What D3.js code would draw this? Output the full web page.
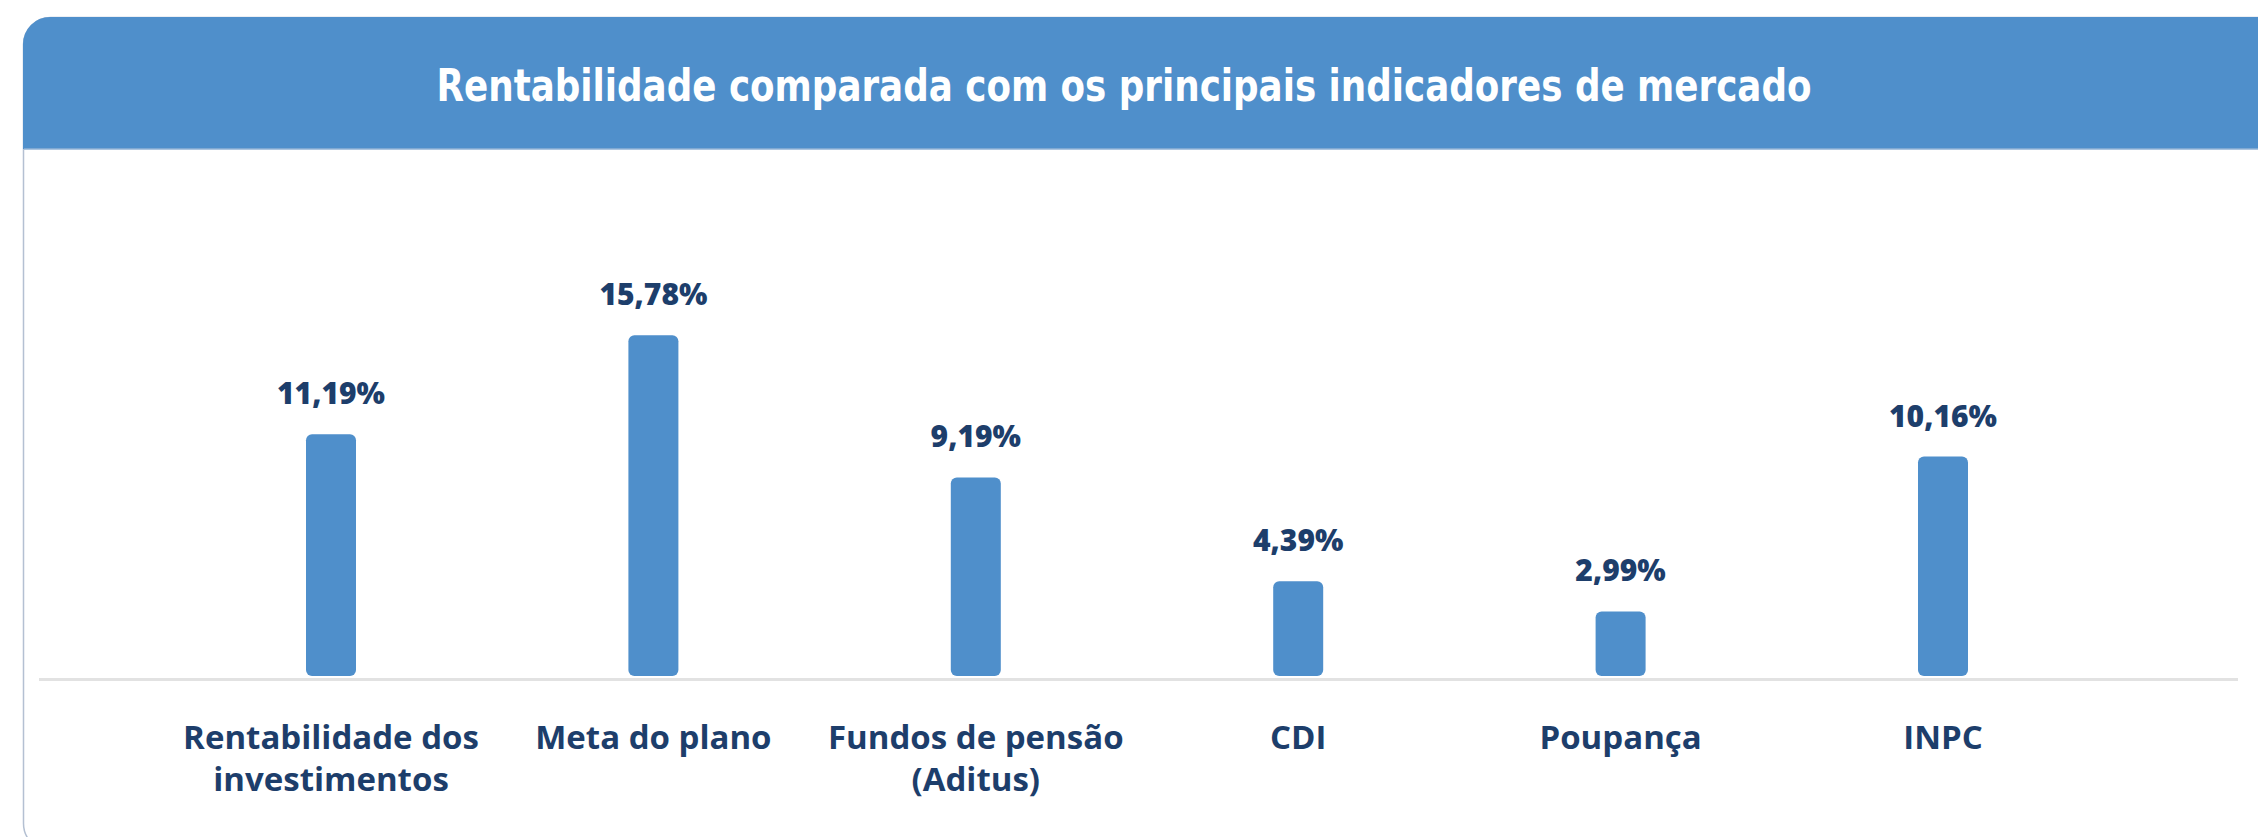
<!DOCTYPE html>
<html>
<head>
<meta charset="utf-8">
<script src="https://cdn.jsdelivr.net/npm/d3@7"></script>
<style>
  html, body { margin: 0; padding: 0; background: #ffffff; }
  svg { display: block; }
</style>
</head>
<body>
<svg id="svg" width="2258" height="837"></svg>
<script>
// data
var titulo = "Rentabilidade comparada com os principais indicadores de mercado";
var categorias = ["Rentabilidade dos|investimentos", "Meta do plano", "Fundos de pensão|(Aditus)", "CDI", "Poupança", "INPC"];
var valores = [11.19, 15.78, 9.19, 4.39, 2.99, 10.16];
var rotulos = ["11,19%", "15,78%", "9,19%", "4,39%", "2,99%", "10,16%"];

function draw(){
	var svg = d3.select("#svg");
	var azul = "#4f8fcb";
	var navy = "#1d3e6b";

	// panel with rounded left corners, open to the right and bottom
	var defs = svg.append("defs");
	defs.append("clipPath").attr("id", "painel")
		.append("rect")
		.attr("x", 23).attr("y", 17)
		.attr("width", 2400).attr("height", 833)
		.attr("rx", 27);

	svg.append("rect")
		.attr("x", 23.5).attr("y", 17.5)
		.attr("width", 2400).attr("height", 833)
		.attr("rx", 27)
		.attr("fill", "#ffffff")
		.attr("stroke", "#b4c0d2")
		.attr("stroke-width", 1.5);

	// header band
	svg.append("rect")
		.attr("clip-path", "url(#painel)")
		.attr("x", 0).attr("y", 17)
		.attr("width", 2258).attr("height", 132)
		.attr("fill", azul);
	svg.append("line")
		.attr("x1", 24).attr("x2", 2258)
		.attr("y1", 149).attr("y2", 149)
		.attr("stroke", "#8fb2d6").attr("stroke-width", 1.5);

	var t = svg.append("text")
		.attr("x", 1124).attr("y", 101)
		.attr("text-anchor", "middle")
		.attr("fill", "#ffffff")
		.style("font-family", "'DejaVu Sans Condensed', 'DejaVu Sans', sans-serif")
		.style("font-stretch", "condensed")
		.style("font-weight", "600")
		.style("font-size", "45px")
		.text(titulo);
	t.attr("textLength", 1375).attr("lengthAdjust", "spacingAndGlyphs");

	// scales
	var scaleX = d3.scalePoint()
		.domain(categorias)
		.range([331, 1943]);

	var scaleY = d3.scaleLinear()
		.domain([0, 16])
		.range([676, 676 - 16 * 21.6]);

	var larg = 50;

	// baseline
	svg.append("line")
		.attr("x1", 39).attr("x2", 2238)
		.attr("y1", 679.5).attr("y2", 679.5)
		.attr("stroke", "#e2e2e2").attr("stroke-width", 3);

	var dados = categorias.map(function(c, i){ return {cat: c, v: valores[i], r: rotulos[i]}; });

	// bars
	svg.selectAll("rect.barra")
		.data(dados)
		.enter()
		.append("rect")
		.attr("class", "barra")
		.attr("x", function(d){ return scaleX(d.cat) - larg / 2; })
		.attr("y", function(d){ return scaleY(d.v); })
		.attr("width", larg)
		.attr("height", function(d){ return scaleY(0) - scaleY(d.v); })
		.attr("rx", 6)
		.attr("fill", azul);

	// value labels
	svg.selectAll("text.valor")
		.data(dados)
		.enter()
		.append("text")
		.attr("class", "valor")
		.attr("x", function(d){ return scaleX(d.cat); })
		.attr("y", function(d){ return scaleY(d.v) - 30; })
		.attr("text-anchor", "middle")
		.attr("fill", navy)
		.style("font-family", "'Open Sans', sans-serif")
		.style("font-weight", "800")
		.style("font-size", "30px")
		.text(function(d){ return d.r; });

	// category labels
	var cats = svg.selectAll("text.cat")
		.data(dados)
		.enter()
		.append("text")
		.attr("class", "cat")
		.attr("text-anchor", "middle")
		.attr("fill", navy)
		.style("font-family", "'Open Sans', sans-serif")
		.style("font-weight", "700")
		.style("font-size", "33px");

	cats.each(function(d){
		var linhas = d.cat.split("|");
		var el = d3.select(this);
		linhas.forEach(function(l, i){
			el.append("tspan")
				.attr("x", scaleX(d.cat))
				.attr("y", 749 + i * 42)
				.text(l);
		});
	});
}
draw();
</script>
</body>
</html>
